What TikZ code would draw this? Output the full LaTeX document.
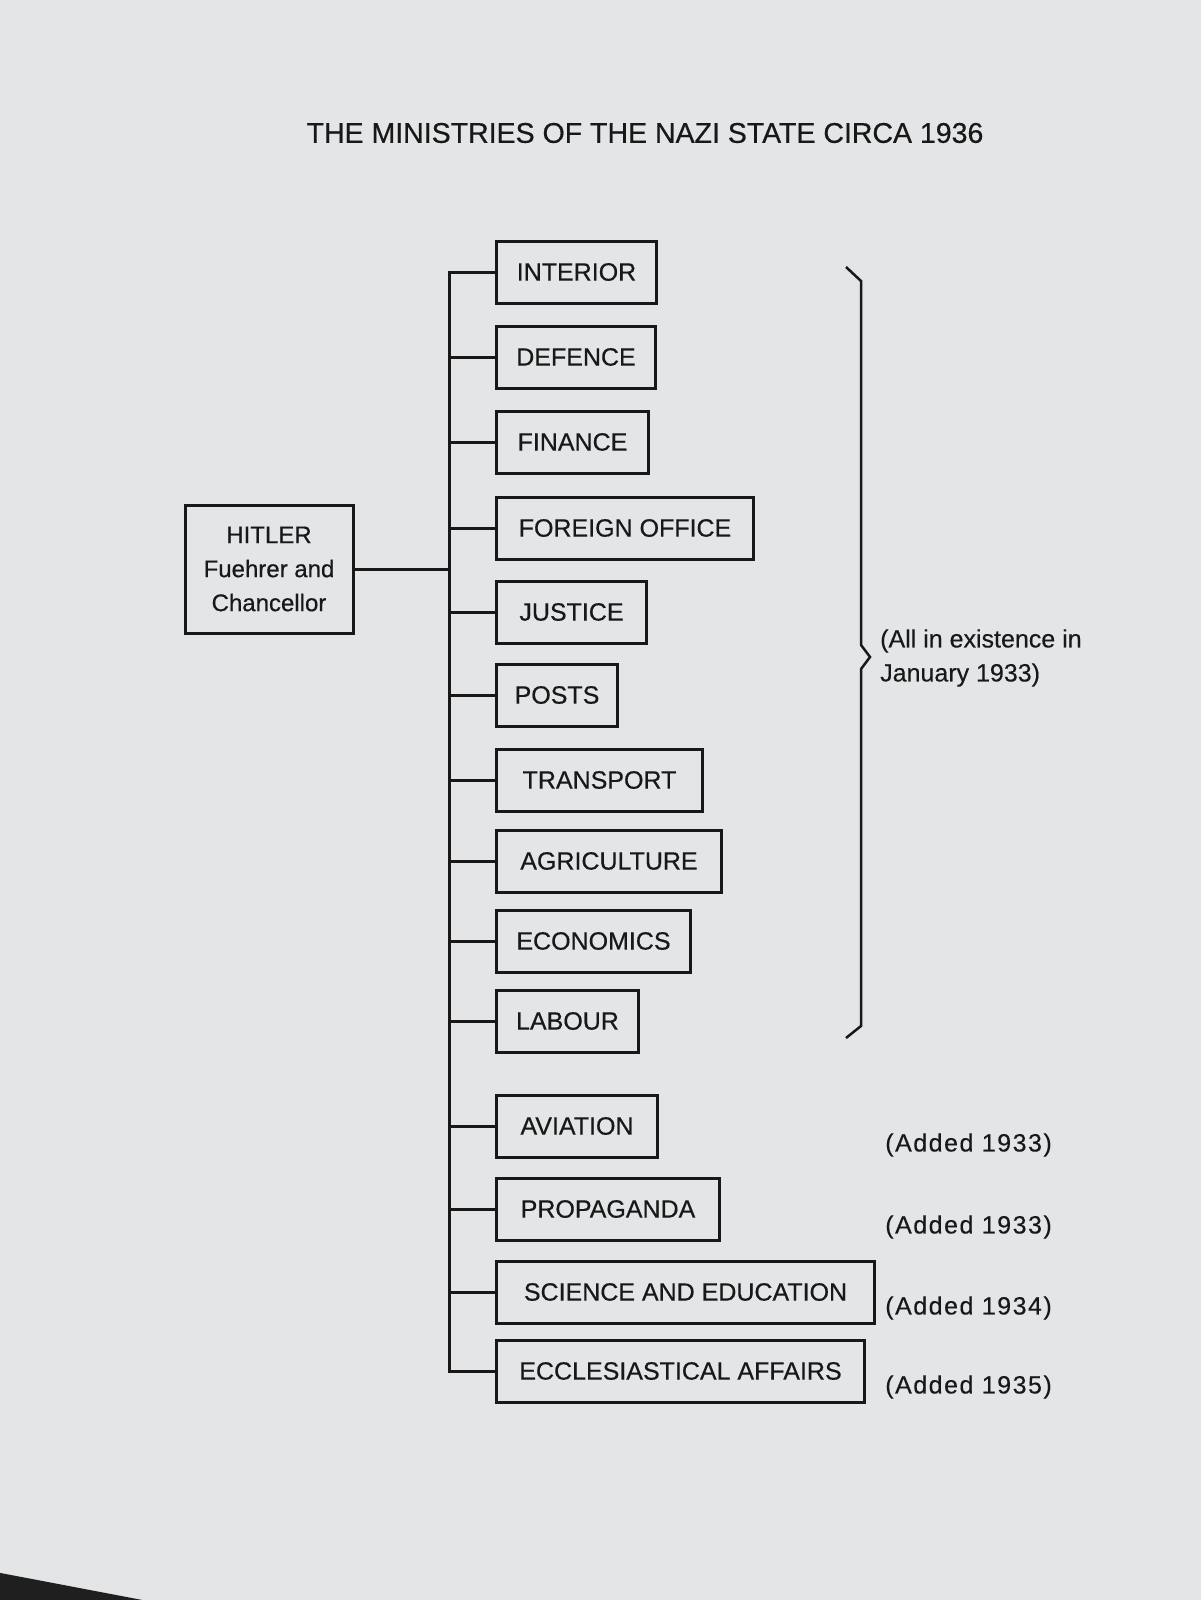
\documentclass[tikz,border=0pt]{standalone}
\usepackage{fontspec}
\setmainfont{Liberation Sans}
\newfontfamily\boxfont[FakeBold=0.5]{Liberation Sans}
\newfontfamily\notefont[FakeBold=0.3]{Liberation Sans}
\newfontfamily\addfont[FakeBold=0.3,LetterSpace=6]{Liberation Sans}
\definecolor{page}{HTML}{E3E5E6}
\definecolor{ink}{HTML}{181818}
\begin{document}
\begin{tikzpicture}[x=1pt,y=-1pt,
  ministry/.style={draw=ink, line width=3pt, minimum height=62pt, inner xsep=0pt,
    anchor=west, text=ink, font=\boxfont\fontsize{25}{30}\selectfont},
  chief/.style={draw=ink, line width=3pt, minimum width=168pt, minimum height=128pt,
    align=center, text=ink, font=\boxfont\fontsize{24}{34}\selectfont},
  link/.style={draw=ink, line width=3pt},
  note/.style={text=ink, font=\notefont\fontsize{25}{34}\selectfont, inner sep=0pt},
  added/.style={text=ink, font=\addfont\fontsize{25}{34}\selectfont, inner sep=0pt, anchor=east}]
\useasboundingbox (0,0) rectangle (1200,1600);
\fill[page] (-10,-10) rectangle (1210,1610);
\fill[black!88] (-10,1571) -- (153,1602) -- (153,1610) -- (-10,1610) -- cycle;

\node[text=ink, font=\boxfont\fontsize{28.5}{34}\selectfont] (title) at (645,133)
  {THE MINISTRIES OF THE NAZI STATE CIRCA 1936};

\node[chief] (hitler) at (269,569) {HITLER\\Fuehrer and\\Chancellor};

\coordinate (trunk) at (449,0);
\foreach \i/\t/\y/\w in {1/INTERIOR/272/160, 2/DEFENCE/357/159, 3/FINANCE/442/152,
  4/FOREIGN OFFICE/528/257, 5/JUSTICE/612/150, 6/POSTS/695/121,
  7/TRANSPORT/780/206, 8/AGRICULTURE/861/225, 9/ECONOMICS/941/194,
  10/LABOUR/1021/142, 11/AVIATION/1126/161, 12/PROPAGANDA/1209/223,
  13/SCIENCE AND EDUCATION/1292/378, 14/ECCLESIASTICAL AFFAIRS/1371/368}
{
  \node[ministry, minimum width=\w pt] (m\i) at (495,\y) {\t};
  \draw[link] (trunk |- m\i.west) -- (m\i.west);
}
\draw[link, line cap=rect] (trunk |- m1.west) -- (trunk |- m14.west);
\draw[link] (hitler.east) -- (trunk |- hitler.east);

% brace
\draw[ink, line width=2.5pt, line join=miter]
  (846,267) -- (861,281) -- (861,645) -- (870,657) -- (861,669)
  -- (861,1026) -- (846,1038);
\node[note, anchor=west, align=left] (allin) at (880,658)
  {(All in existence in\\January 1933)};

\node[added] (a11) at (1052,1145) {(Added 1933)};
\node[added] (a12) at (1052,1227) {(Added 1933)};
\node[added] (a13) at (1052,1308) {(Added 1934)};
\node[added] (a14) at (1052,1387) {(Added 1935)};
\end{tikzpicture}
\end{document}
